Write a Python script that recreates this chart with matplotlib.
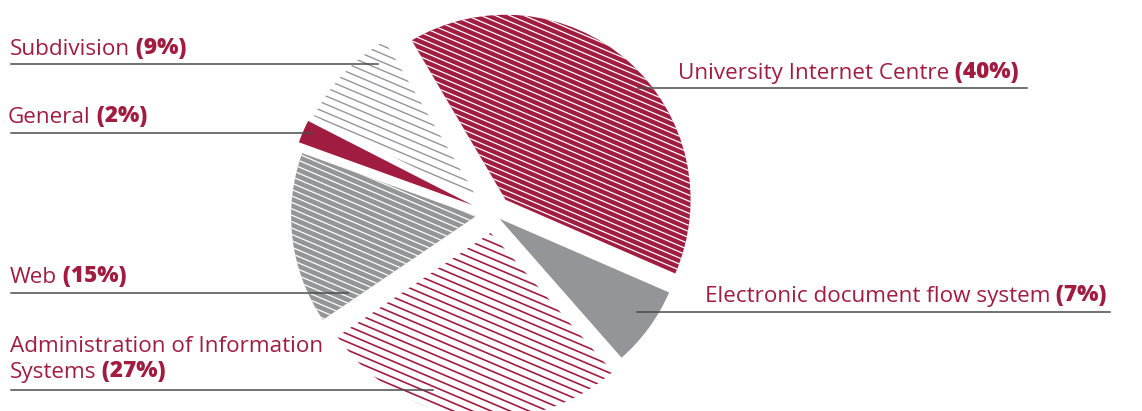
import numpy as np
import matplotlib.pyplot as plt
from matplotlib.collections import LineCollection

# --- DATA ---
names = ["University Internet Centre", "Subdivision", "General", "Web",
         "Administration of Information\nSystems", "Electronic document flow system"]
shares = [40, 9, 2, 15, 27, 7]

# --- STYLE / LAYOUT ---
W, H = 1142, 411
CRIMSON = "#A01C40"
GRAY = "#939598"
LEADER = "#4a4a4a"
CENTER = (493, H - 214)
RADIUS = 185
explode = [19, 20, 22, 17, 19, 8]          # offsets in pixels
fills = [CRIMSON, "white", CRIMSON, GRAY, "white", GRAY]
# hatch: (line colour, perpendicular spacing px, line width pt) or None
hatches = [("white", 5.6, 0.9), (GRAY, 7.6, 1.0), None,
           ("white", 5.9, 0.9), (CRIMSON, 7.4, 1.2), None]
HATCH_ANGLE = -23

# label text position (x, baseline y) and leader line (x0, x1, y), image coords
text_pos = [(678, 79), (10, 55), (8, 123), (10, 283), (10, 352), (705, 302)]
leaders = [(638, 1027, 88), (11, 378, 64), (11, 313, 133),
           (11, 348, 293), (11, 433, 390), (637, 1110, 312)]

plt.rcParams['font.family'] = ['Open Sans', 'DejaVu Sans']
FS = 16.2

fig = plt.figure(figsize=(W / 100, H / 100), dpi=100)
ax = fig.add_axes([0, 0, 1, 1])

wedges, _ = ax.pie(shares, startangle=-23.5, counterclock=True, radius=RADIUS,
                   center=CENTER, explode=explode, colors=fills,
                   wedgeprops=dict(linewidth=0))
ax.set_xlim(0, W)
ax.set_ylim(0, H)
ax.axis('off')

# hand-drawn hatching (shallow diagonal lines) clipped to each wedge
d = np.array([np.cos(np.radians(HATCH_ANGLE)), np.sin(np.radians(HATCH_ANGLE))])
n = np.array([-d[1], d[0]])
for w, h in zip(wedges, hatches):
    if h is None:
        continue
    col, sp, lw = h
    c = np.array(w.center)
    segs = []
    for k in np.arange(-260, 260, sp):
        p = c + k * n
        segs.append([p - 300 * d, p + 300 * d])
    lc = LineCollection(segs, colors=col, linewidths=lw, zorder=3)
    ax.add_collection(lc)
    lc.set_clip_path(w)

# labels and leader lines
for name, pct, (tx, ty), (x0, x1, ly) in zip(names, shares, text_pos, leaders):
    ax.plot([x0, x1], [H - ly, H - ly], color=LEADER, lw=1.1, zorder=4)
    lines = name.split("\n")
    for i, line in enumerate(lines):
        t = ax.text(tx, H - ty - 26 * i, line, color=CRIMSON, fontsize=FS,
                    ha='left', va='baseline')
    ax.annotate(f" ({pct}%)", xy=(1, 0), xycoords=t, color=CRIMSON,
                fontsize=FS, fontweight='heavy', ha='left', va='bottom')

fig.savefig("out.png", dpi=100)
